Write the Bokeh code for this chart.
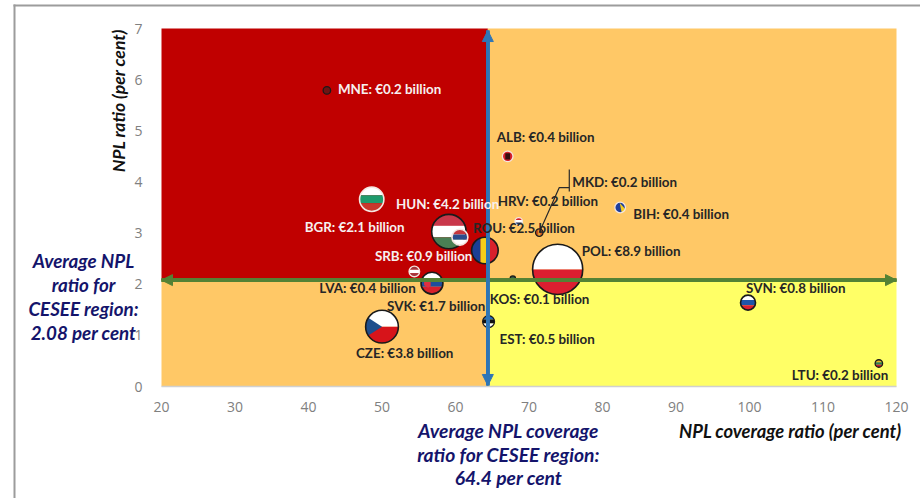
import numpy as np
from bokeh.embed import file_html
from bokeh.models import Arrow, FixedTicker, Label, NormalHead
from bokeh.plotting import figure
from bokeh.resources import INLINE

# Country observations: NPL coverage (x), NPL ratio (y), NPL stock in EUR billion
countries = ["MNE", "BGR", "HUN", "SRB", "ROU", "LVA", "SVK", "CZE", "ALB",
             "HRV", "MKD", "BIH", "POL", "KOS", "EST", "SVN", "LTU"]
coverage = [42.5, 48.6, 59.1, 60.6, 64.0, 54.4, 56.8, 50.0, 67.1,
            68.6, 71.4, 82.4, 73.9, 67.8, 64.5, 99.8, 117.6]
npl_ratio = [5.79, 3.66, 3.03, 2.92, 2.66, 2.25, 2.02, 1.17, 4.50,
             3.23, 3.01, 3.50, 2.29, 2.11, 1.27, 1.64, 0.45]
npl_stock = [0.2, 2.1, 4.2, 0.9, 2.5, 0.4, 1.7, 3.8, 0.4,
             0.2, 0.2, 0.4, 8.9, 0.1, 0.5, 0.8, 0.2]
avg_coverage = 64.4
avg_ratio = 2.08
x_ticks = list(range(20, 121, 10))
y_ticks = list(range(0, 8))

X0, X1, Y0, Y1 = 20, 120, 0, 7
LEFT, RIGHT, TOP, BOTTOM = 161, 896, 28, 386
W, H = 920, 498
PX_X = (RIGHT - LEFT) / (X1 - X0)
PX_Y = (BOTTOM - TOP) / (Y1 - Y0)


def sx(px):
    return X0 + (px - LEFT) / PX_X


def sy(py):
    return Y0 + (BOTTOM - py) / PX_Y


def to_px(x, y):
    return LEFT + (x - X0) * PX_X, BOTTOM - (y - Y0) * PX_Y


# The frame fills the page so captions can sit beside the axes; the axes are pinned inside it
p = figure(width=W, height=H, x_range=(sx(0), sx(W)), y_range=(sy(H), sy(0)),
           output_backend="svg", toolbar_location=None, min_border=0)
p.outline_line_color = None
p.grid.visible = False
p.background_fill_color = "white"
p.border_fill_color = "white"

for ax, ticks in ((p.xaxis, x_ticks), (p.yaxis, y_ticks)):
    ax.ticker = FixedTicker(ticks=ticks)
    ax.major_tick_line_color = None
    ax.minor_tick_line_color = None
    ax.major_label_text_color = "#808080"
    ax.major_label_text_font = "Open Sans"
    ax.major_label_text_font_size = "14px"
p.xaxis.fixed_location = Y0
p.yaxis.fixed_location = X0
p.xaxis.bounds = (X0, X1)
p.yaxis.bounds = (Y0, Y1)
p.yaxis.axis_line_color = None
p.xaxis.axis_line_color = "#d0d0d0"
p.xaxis.axis_line_width = 1.5
p.xaxis.major_label_standoff = 9
p.yaxis.major_label_standoff = 13

# Outer frame line on the left and top of the exhibit
p.quad(left=[sx(13), sx(13)], right=[sx(15), sx(W)], top=[sy(4), sy(4)], bottom=[sy(H), sy(6)],
       fill_color="#9c9c9c", line_color=None)

# Quadrants split at the regional averages
p.quad(left=[X0, avg_coverage, X0, avg_coverage],
       right=[avg_coverage, X1, avg_coverage, X1],
       bottom=[avg_ratio, avg_ratio, Y0, Y0],
       top=[Y1, Y1, avg_ratio, avg_ratio],
       fill_color=["#C00000", "#FFC866", "#FFC866", "#FFFF66"], line_color=None)

# Flag designs: colour and half-planes (nx, ny, c) meaning nx*u + ny*v <= c on the unit disc
T = 1 / 3


def hbands(top, mid, bot):
    return [(top, [(0, -1, -T)]), (mid, [(0, 1, T), (0, -1, T)]), (bot, [(0, 1, -T)])]


flags = {
    "MNE": [("#6E1414", [])],
    "BGR": hbands("#FFFFFF", "#1E9B6C", "#C9372C"),
    "HUN": hbands("#C9374A", "#FFFFFF", "#4A7F54"),
    "SRB": hbands("#C6363C", "#2B4C8C", "#FFFFFF"),
    "ROU": [("#1B3F94", [(1, 0, -T)]), ("#F5CE1A", [(1, 0, T), (-1, 0, T)]), ("#D8202C", [(-1, 0, -T)])],
    "LVA": hbands("#A4343A", "#FFFFFF", "#A4343A"),
    "SVK": hbands("#FFFFFF", "#1F4E9C", "#D8202C")
    + [("#E03040", [(1, 0, -0.12), (-1, 0, 0.72), (0, 1, 0.32), (-0.6, -1, 0.62), (0.6, -1, 0.2)])],
    "CZE": [("#FFFFFF", [(0, -1, 0)]), ("#D7141A", [(0, 1, 0)]),
            ("#1F4E8C", [(0.64, 1, 0), (0.64, -1, 0)])],
    "ALB": [("#D8202C", []), ("#301010", [(1, 0, 0.45), (-1, 0, 0.45), (0, 1, 0.6), (0, -1, 0.6)])],
    "HRV": hbands("#D8202C", "#FFFFFF", "#23408F"),
    "MKD": [("#C8501E", []), ("#E8A030", [(1, 0, 0.3), (-1, 0, 0.3)])],
    "BIH": [("#1F3F9C", []), ("#F7CE1C", [(-1, -0.2, -0.1), (1, 0.9, 0.7)])],
    "POL": [("#FFFFFF", [(0, -1, 0)]), ("#DC1F30", [(0, 1, 0)])],
    "KOS": [("#2F5A45", [])],
    "EST": hbands("#1F6FC0", "#111111", "#FFFFFF"),
    "SVN": hbands("#FFFFFF", "#1F55A8", "#DC1F30"),
    "LTU": hbands("#E8B820", "#2F7F4F", "#C8202C"),
}
pale_ring = {"BGR", "SRB", "LVA", "ALB", "HRV", "BIH"}
RADIUS_K = 8.4


def clip(poly, plane):
    nx, ny, c = plane
    out = []
    for i in range(len(poly)):
        a, b = poly[i], poly[(i + 1) % len(poly)]
        da = nx * a[0] + ny * a[1] - c
        db = nx * b[0] + ny * b[1] - c
        if da <= 0:
            out.append(a)
        if da * db < 0:
            t = da / (da - db)
            out.append((a[0] + t * (b[0] - a[0]), a[1] + t * (b[1] - a[1])))
    return out


angles = np.linspace(0, 2 * np.pi, 72, endpoint=False)
disc = [(float(np.cos(t)), float(np.sin(t))) for t in angles]

order = sorted(range(len(countries)), key=lambda i: -npl_stock[i])
for i in order:
    code = countries[i]
    r = RADIUS_K * np.sqrt(npl_stock[i])
    rx, ry = r / PX_X, r / PX_Y
    for colour, planes in flags[code]:
        poly = disc
        for plane in planes:
            poly = clip(poly, plane)
        if len(poly) > 2:
            p.patch([coverage[i] + u * rx for u, _ in poly],
                    [npl_ratio[i] + v * ry for _, v in poly],
                    fill_color=colour, line_color=None)
    ring = "#F4E6E0" if code in pale_ring else "#1A1A1A"
    p.circle(x=[coverage[i]], y=[npl_ratio[i]], radius=r, radius_units="screen",
             fill_color=None, line_color=ring, line_width=1.6 if r > 6 else 1.3)

# Leader from the MKD point up to its label
mkd = countries.index("MKD")
mx, my = to_px(coverage[mkd], npl_ratio[mkd])
p.line([sx(mx), sx(mx + 20), sx(mx + 30)], [sy(my), sy(my - 45), sy(my - 45)],
       line_color="#2a2a2a", line_width=1.2)
p.line([sx(mx + 30), sx(mx + 30)], [sy(my - 41), sy(my - 63)], line_color="#2a2a2a", line_width=1.2)

# Regional average arrows
for (xs, ys, colour) in (((X0, X1), (avg_ratio, avg_ratio), "#548235"),
                         ((avg_coverage, avg_coverage), (Y0 + 0.02, Y1 - 0.04), "#2E75B6")):
    p.line(list(xs), list(ys), line_color=colour, line_width=3.6)
    for a, b in ((0, 1), (1, 0)):
        p.add_layout(Arrow(x_start=xs[a], y_start=ys[a], x_end=xs[b], y_end=ys[b],
                           line_color=colour, line_width=3.6,
                           end=NormalHead(size=11, fill_color=colour, line_color=colour)))

# Country labels: left edge and vertical centre in pixels relative to each point
label_offset = {
    "MNE": (11, -1), "BGR": (-67, 28), "HUN": (-53, -28), "SRB": (-85, 19), "ROU": (-12, -22),
    "LVA": (-95, 17), "SVK": (-45, 23), "CZE": (-26, 26), "ALB": (-11, -19), "HRV": (-21, -20),
    "MKD": (33, -51), "BIH": (13, 6), "POL": (24, -18), "KOS": (-23, 20), "EST": (11, 17),
    "SVN": (-2, -15), "LTU": (-87, 12),
}
white_text = {"MNE", "BGR", "HUN", "SRB"}
for code, x, y, v in zip(countries, coverage, npl_ratio, npl_stock):
    px, py = to_px(x, y)
    dx, dy = label_offset[code]
    p.add_layout(Label(x=sx(px + dx), y=sy(py + dy), text=f"{code}: €{v} billion",
                       text_font="Lato", text_font_style="bold", text_font_size="13.4px",
                       text_baseline="middle", text_align="left",
                       text_color="#F6F0F0" if code in white_text else "#262626"))


def page_label(x, y, text, **style):
    p.add_layout(Label(x=sx(x), y=sy(y), text=text, text_font="Lato",
                       text_font_style="bold italic", text_align="center", text_baseline="middle",
                       **style))


NAVY = "#14146B"
avg_ratio_lines = ["Average NPL", "ratio for", "CESEE region:", f"{avg_ratio} per cent"]
for line, py in zip(avg_ratio_lines, (260, 284, 308, 332)):
    page_label(83, py, line, text_font_size="18.8px", text_color=NAVY)
avg_cov_lines = ["Average NPL coverage", "ratio for CESEE region:", f"{avg_coverage} per cent"]
for line, py in zip(avg_cov_lines, (430, 454, 477)):
    page_label(508, py, line, text_font_size="19.3px", text_color=NAVY)

page_label(790, 430, "NPL coverage ratio (per cent)", text_font_size="18.4px", text_color="#111111")
page_label(118, 100, "NPL ratio (per cent)", angle=90, angle_units="deg",
           text_font_size="17.6px", text_color="#111111")

open("out.html", "w").write(file_html(p, INLINE))
